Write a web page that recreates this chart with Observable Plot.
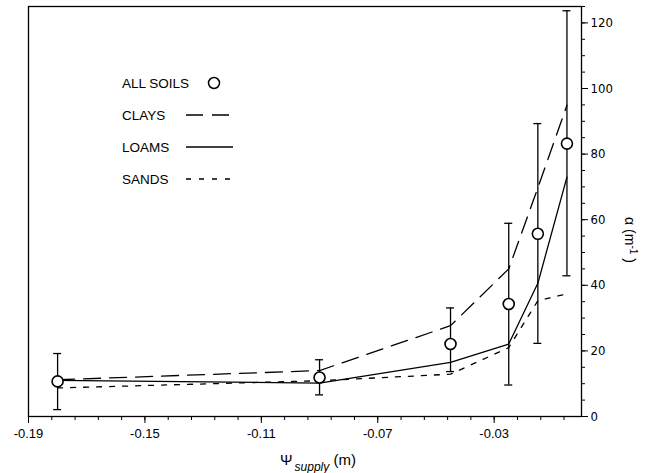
<!DOCTYPE html>
<html>
<head>
<meta charset="utf-8">
<script src="https://cdn.jsdelivr.net/npm/d3@7"></script>
<script src="https://cdn.jsdelivr.net/npm/@observablehq/plot@0.6"></script>
<style>
  html, body { margin: 0; padding: 0; background: #fff; }
  #wrap { position: relative; width: 646px; height: 473px; }
</style>
</head>
<body>
<div id="wrap"></div>
<script>
// ---- data ----
const psi      = [-0.18, -0.09, -0.045, -0.025, -0.015, -0.005];
const allSoils = [10.7, 11.9, 22.1, 34.3, 55.7, 83.2];
const errLow   = [2.1, 6.6, 13.7, 9.6, 22.3, 42.9];
const errHigh  = [19.2, 17.3, 33.1, 58.9, 89.3, 123.7];
const clays    = [11.2, 14.0, 27.7, 45.0, 69.7, 94.9];
const loams    = [11.0, 10.2, 16.5, 22.1, 40.6, 73.0];
const sands    = [8.7, 10.9, 12.9, 21.0, 35.3, 37.4];

const xTickLabels = [-0.19, -0.15, -0.11, -0.07, -0.03];
const yTickLabels = [0, 20, 40, 60, 80, 100, 120];
const legendLabels = ["ALL SOILS", "CLAYS", "LOAMS", "SANDS"];

const xMinor = d3.range(0, 24).map(i => -0.19 + i * 0.008).filter(v => v <= 0.0001);
const yMinor = d3.range(0, 26).map(i => i * 5);

const idx = psi.map((_, i) => i);
const narrow = "'Liberation Sans Narrow','Arial Narrow','DejaVu Sans Condensed',sans-serif";
const sans = "'Liberation Sans', Arial, sans-serif";

const chart = Plot.plot({
  width: 646,
  height: 473,
  marginLeft: 28,
  marginRight: 65,
  marginTop: 6,
  marginBottom: 57,
  style: { fontFamily: sans, fontSize: "13px", color: "black", background: "white" },
  x: { domain: [-0.19, 0] },
  y: { domain: [0, 125] },
  marks: [
    Plot.axisX({ ticks: xMinor, tickSize: 4, tickFormat: () => "", label: null, strokeWidth: 1 }),
    Plot.axisX({ ticks: xTickLabels, tickSize: 7, tickPadding: 5, tickFormat: d => d.toFixed(2), label: null, fontSize: 13, strokeWidth: 1 }),
    Plot.axisY({ anchor: "right", ticks: yMinor, tickSize: 3, tickFormat: () => "", label: null, strokeWidth: 1 }),
    Plot.axisY({ anchor: "right", ticks: yTickLabels, tickSize: 6, tickPadding: 3, label: null, fontFamily: narrow, fontSize: 13, strokeWidth: 1 }),
    Plot.frame({ stroke: "black", strokeWidth: 1.3 }),
    // error bars
    Plot.ruleX(idx, { x: i => psi[i], y1: i => errLow[i], y2: i => errHigh[i], stroke: "black", strokeWidth: 1.3 }),
    Plot.ruleY(idx, { y: i => errHigh[i], x1: i => psi[i], x2: i => psi[i], insetLeft: -4, insetRight: -4, stroke: "black", strokeWidth: 1.3 }),
    Plot.ruleY(idx, { y: i => errLow[i], x1: i => psi[i], x2: i => psi[i], insetLeft: -4, insetRight: -4, stroke: "black", strokeWidth: 1.3 }),
    // soil class lines
    Plot.line(idx, { x: i => psi[i], y: i => clays[i], stroke: "black", strokeWidth: 1.3, strokeDasharray: "17,9" }),
    Plot.line(idx, { x: i => psi[i], y: i => loams[i], stroke: "black", strokeWidth: 1.3 }),
    Plot.line(idx, { x: i => psi[i], y: i => sands[i], stroke: "black", strokeWidth: 1.3, strokeDasharray: "5,8" }),
    // all soils
    Plot.dot(idx, { x: i => psi[i], y: i => allSoils[i], r: 5.5, fill: "white", stroke: "black", strokeWidth: 1.6 })
  ]
});

document.getElementById("wrap").appendChild(chart);
const svg = d3.select(chart);

// x axis title: Ψ_supply (m)
const xt = svg.append("text")
  .attr("x", 280).attr("y", 465)
  .attr("text-anchor", "start")
  .attr("fill", "black")
  .style("font-family", sans)
  .style("font-size", "15px");
xt.append("tspan").text("Ψ");
xt.append("tspan").attr("dx", 2).attr("dy", 6).style("font-size", "12px").style("font-style", "italic").text("supply");
xt.append("tspan").attr("dy", -6).text(" (m)");

// y axis title: α (m^-1), rotated
const yt = svg.append("text")
  .attr("transform", "translate(625,240) rotate(90)")
  .attr("text-anchor", "middle")
  .attr("fill", "black")
  .style("font-family", sans)
  .style("font-size", "14px");
yt.append("tspan").text("α (m");
yt.append("tspan").attr("dy", -5).style("font-size", "10px").text("-1");
yt.append("tspan").attr("dy", 5).text(" )");

// legend (drawn in pixel space, not data)
const lg = svg.append("g").attr("fill", "none").attr("stroke", "black");
const rows = [83, 115, 147, 179];
const styles = [null, "17,9", null, "5,8"];
legendLabels.forEach((lab, k) => {
  svg.append("text")
    .attr("x", 122).attr("y", rows[k]).attr("dy", "0.35em")
    .attr("text-anchor", "start")
    .attr("fill", "black")
    .style("font-family", sans)
    .style("font-size", "13.5px")
    .text(lab);
  if (k === 0) {
    lg.append("circle").attr("cx", 214).attr("cy", rows[k]).attr("r", 5.5).attr("fill", "white").attr("stroke-width", 1.5);
  } else {
    const l = lg.append("line").attr("x1", 186).attr("x2", 233).attr("y1", rows[k]).attr("y2", rows[k]).attr("stroke-width", 1.3);
    if (styles[k]) l.attr("stroke-dasharray", styles[k]);
  }
});
</script>
</body>
</html>
